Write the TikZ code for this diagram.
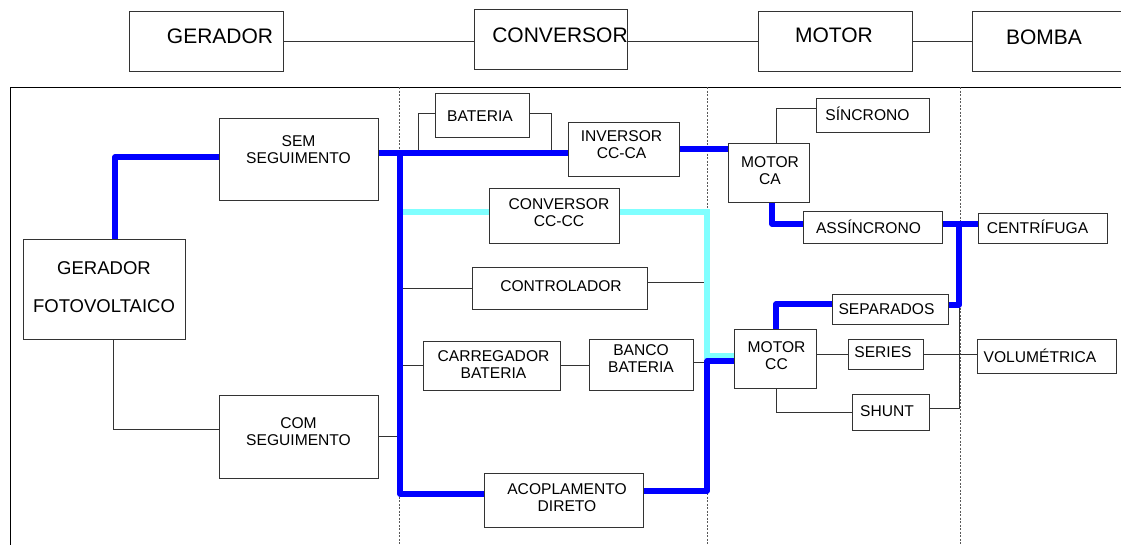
\documentclass[tikz,border=0pt]{standalone}
\usepackage{fontspec}
\setmainfont{Liberation Sans}
\usetikzlibrary{fit,backgrounds}
\definecolor{pblue}{RGB}{0,0,255}
\definecolor{pcyan}{RGB}{128,255,255}
\tikzset{
 box/.style={draw=black!80, line width=0.9pt, fill=white, inner sep=0pt},
 lbl/.style={font=\fontsize{15.6}{17}\selectfont, align=center, inner sep=0pt},
 hlbl/.style={font=\fontsize{21}{24}\selectfont, align=center, inner sep=0pt},
 glbl/.style={font=\fontsize{18.5}{38}\selectfont, align=center, inner sep=0pt},
 thinline/.style={draw=black!80, line width=0.8pt},
 blueline/.style={draw=pblue, line width=5.5pt, line cap=round, line join=round},
 cyanline/.style={draw=pcyan, line width=5.5pt, line join=miter},
 sepline/.style={draw=black!65, line width=0.6pt, dash pattern=on 2pt off 1.5pt},
}
\newcommand\mkbox[9][lbl]{\node[box, fit={(#3,#4) (#5,#6)}, label={[#1, xshift=#7pt, yshift=#8pt]center:{#9}}] (#2) {};}
\begin{document}
\begin{tikzpicture}[x=1pt,y=-1pt]
\useasboundingbox (0,0) rectangle (1121,544);
% header
\mkbox[hlbl]{hG}{129}{11}{283}{71}{14}{5}{GERADOR}
\mkbox[hlbl]{hC}{474}{9}{627}{69}{9.5}{4}{CONVERSOR}
\mkbox[hlbl]{hM}{758}{11}{912}{71}{-1}{6}{MOTOR}
\mkbox[hlbl]{hB}{972}{11}{1124}{71}{-4}{3.5}{BOMBA}
% left column
\mkbox[glbl]{GF}{23}{239}{185}{339}{0}{2}{GERADOR\\FOTOVOLTAICO}
\mkbox{SEM}{219}{118}{378}{200}{0}{9}{SEM\\SEGUIMENTO}
\mkbox{COM}{219}{395}{378}{478}{0}{4.5}{COM\\SEGUIMENTO}
% converters
\mkbox{BAT}{435}{93}{529}{137}{-2}{-1}{BATERIA}
\mkbox{INV}{568}{122}{679}{176}{-2}{4}{INVERSOR\\CC-CA}
\mkbox{CCC}{489}{188}{619}{243}{5}{2.5}{CONVERSOR\\CC-CC}
\mkbox{CTRL}{472}{267}{647}{309}{1.5}{2}{CONTROLADOR}
\mkbox{CARR}{423}{341}{560}{390}{2}{1}{CARREGADOR\\BATERIA}
\mkbox{BANCO}{589}{339}{693}{390}{0}{6}{BANCO\\BATERIA}
\mkbox{ACOP}{484}{473}{643}{527}{3.5}{2.5}{ACOPLAMENTO\\DIRETO}
% motors
\mkbox{MCA}{728}{143}{809}{202}{1.5}{2}{MOTOR\\CA}
\mkbox{SINC}{816}{98}{929}{132}{-5}{1}{SÍNCRONO}
\mkbox{ASS}{803}{211}{942}{243}{-4}{0}{ASSÍNCRONO}
\mkbox{MCC}{734}{329}{816}{388}{1.5}{3}{MOTOR\\CC}
\mkbox{SEP}{832}{294}{948}{324}{-3.5}{0}{SEPARADOS}
\mkbox{SER}{848}{339}{923}{369}{-2.5}{2}{SERIES}
\mkbox{SHUNT}{852}{394}{929}{430}{-3.5}{1}{SHUNT}
% pumps
\mkbox{CENT}{978}{213}{1107}{243}{-5}{1}{CENTRÍFUGA}
\mkbox{VOL}{977}{339}{1116}{373}{-6.5}{0}{VOLUMÉTRICA}
% junction coordinates
\coordinate (busT) at (400,153);
\coordinate (busB) at (400,494);
\coordinate (bl) at (418,153);
\coordinate (br) at (551,153);
\coordinate (cc0) at (400,212);
\coordinate (cc1) at (707,212);
\coordinate (cc2) at (707,356);
\coordinate (bj) at (707,361);
\coordinate (j2) at (959,305);
\coordinate (fT) at (10.5,87);
\coordinate (fR) at (1125,87);
\coordinate (fB) at (10.5,548);
\coordinate (d1t) at (399,87);
\coordinate (d1b) at (399,548);
\coordinate (d2t) at (707,87);
\coordinate (d2b) at (707,548);
\coordinate (d3t) at (960,87);
\coordinate (d3b) at (960,548);
\begin{pgfonlayer}{background}
% frame and separators
\draw[thinline, draw=black] (fR) -- (fT) -- (fB);
\draw[sepline] (d1t) -- (d1b);
\draw[sepline] (d2t) -- (d2b);
\draw[sepline] (d3t) -- (d3b);
% header connectors
\draw[thinline] (hG.east) -- (hG.east -| hC.west);
\draw[thinline] (hC.east |- hM.west) -- (hM.west);
\draw[thinline] (hM.east) -- (hB.west);
% thin connectors
\draw[thinline] ([xshift=9pt]GF.south) |- ([yshift=7.5pt]COM.west);
\draw[thinline] (COM.east) -- (COM.east -| busT);
\draw[thinline] (bl) |- ([yshift=2pt]BAT.west);
\draw[thinline] ([yshift=2pt]BAT.east) -| (br);
\draw[thinline] (CTRL.west -| busT) -- (CTRL.west);
\draw[thinline] ([yshift=6pt]CTRL.east) -- ([yshift=6pt]CTRL.east -| cc1);
\draw[thinline] (CARR.west -| busT) -- (CARR.west);
\draw[thinline] (CARR.east) -- (CARR.east -| BANCO.west);
\draw[thinline] ([yshift=2pt]BANCO.east) -- ([yshift=2pt]BANCO.east -| bj);
\draw[thinline] ([xshift=7.5pt]MCA.north) |- ([yshift=7pt]SINC.west);
\draw[thinline] (MCC.east |- SER.west) -- (SER.west);
\draw[thinline] (SER.east) -- (SER.east -| VOL.west);
\draw[thinline] ([xshift=1pt]MCC.south) |- (SHUNT.west);
\draw[thinline] ([yshift=4pt]SHUNT.east) -| (j2);
% cyan path
\draw[cyanline] (cc0) -- (cc0 -| CCC.west);
\draw[cyanline] (CCC.east |- cc0) -- (cc1) -- (cc2) -- (cc2 -| MCC.west);
% blue paths
\draw[blueline] ([xshift=11pt]GF.north) |- ([yshift=2pt]SEM.west);
\draw[blueline] ([yshift=6pt]SEM.east) -- (busT -| INV.west);
\draw[blueline] (busT) -- (busB) -- (busB -| ACOP.west);
\draw[blueline] ([yshift=9pt]ACOP.east) -| (bj) -- (bj -| MCC.west);
\draw[blueline] (INV.east) -- (INV.east -| MCA.west);
\draw[blueline] ([xshift=3.5pt]MCA.south) |- ([yshift=3pt]ASS.west);
\draw[blueline] ([yshift=3pt]ASS.east) -- ([yshift=3pt]ASS.east -| CENT.west);
\draw[blueline] ([yshift=3pt]ASS.east -| j2) -- (j2) -- (j2 -| SEP.east);
\draw[blueline] ([xshift=1pt]MCC.north) |- ([yshift=5pt]SEP.west);
\end{pgfonlayer}
\end{tikzpicture}
\end{document}
